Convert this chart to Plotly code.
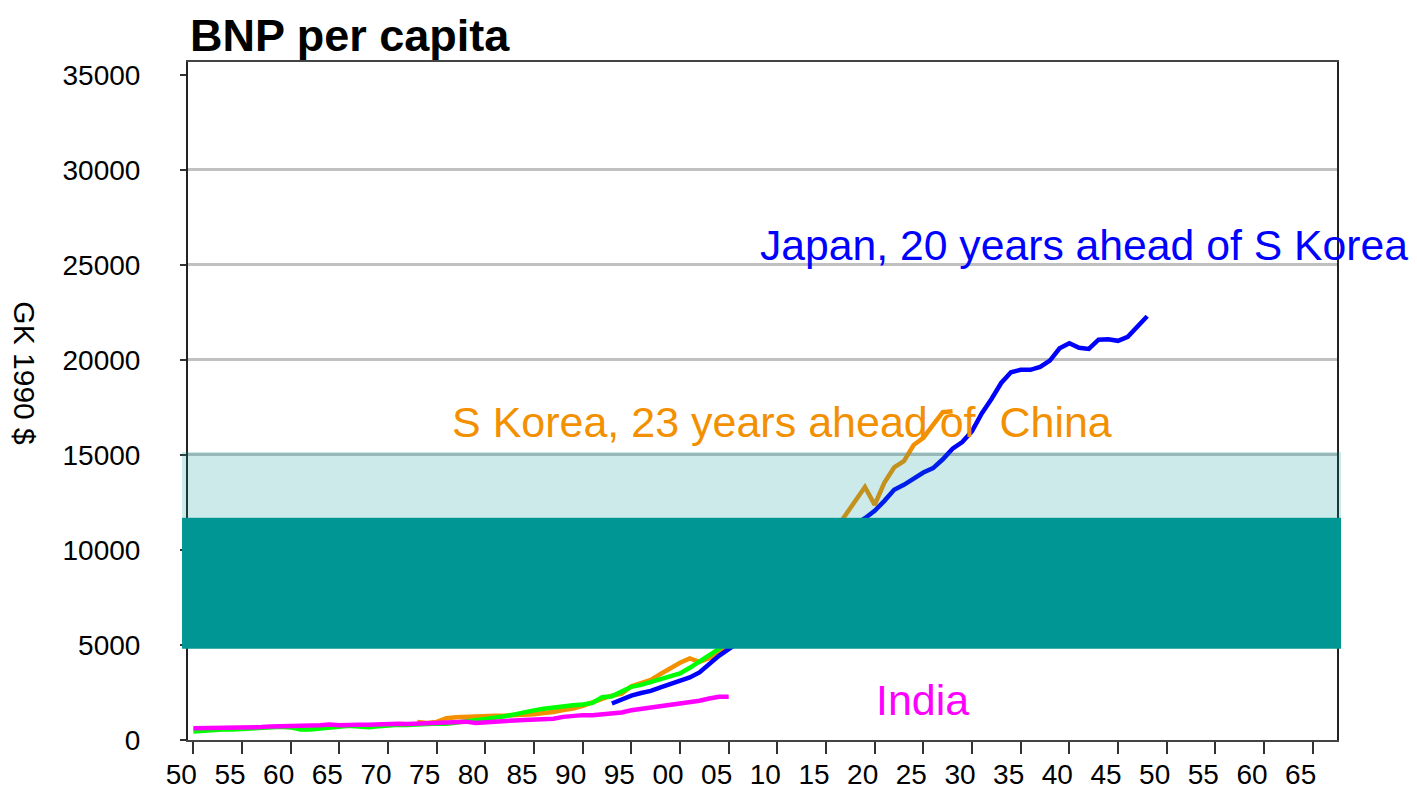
import plotly.graph_objects as go

# --- data (GK 1990 $ per capita) ---
china_years = list(range(1950, 2006))
china = [448, 491, 538, 552, 556, 577, 616, 637, 693, 697,
         662, 553, 550, 592, 653, 706, 753, 712, 678, 722,
         778, 798, 795, 838, 836, 871, 850, 894, 978, 1039,
         1100, 1150, 1250, 1350, 1480, 1560, 1640, 1720, 1800, 1830,
         1871, 1950, 2250, 2300, 2550, 2800, 2900, 3050, 3180, 3330,
         3500, 3800, 4120, 4450, 4800, 5300]

# S Korea 1950-2005 moved 23 years ahead
korea_years = list(range(1973, 2029))
korea = [950, 900, 950, 1150, 1200, 1230, 1220, 1250, 1270, 1280,
         1290, 1300, 1350, 1420, 1470, 1580, 1650, 1800, 2008, 2167,
         2332, 2439, 2824, 3015, 3162, 3476, 3775, 4064, 4294, 4114,
         4302, 4557, 5007, 5375, 5670, 6263, 6916, 7621, 8027, 8704,
         9425, 9850, 10350, 11097, 11850, 12648, 13317, 12375, 13547, 14343,
         14673, 15524, 15902, 16583, 17250, 17300]

# Japan 1950-2005 moved 43 years ahead (20 years ahead of S Korea)
japan_years = list(range(1993, 2049))
japan = [1921, 2126, 2336, 2474, 2582, 2771, 2948, 3136, 3289, 3554,
         3986, 4426, 4777, 5129, 5668, 5934, 6506, 7152, 7983, 8874,
         9714, 10040, 10734, 11434, 11145, 11344, 11669, 12064, 12585, 13163,
         13428, 13754, 14078, 14307, 14773, 15331, 15679, 16251, 17185, 17943,
         18789, 19355, 19482, 19478, 19632, 19970, 20613, 20882, 20640, 20581,
         21069, 21084, 21006, 21218, 21750, 22300]

india_years = list(range(1950, 2006))
india = [619, 623, 629, 657, 672, 676, 701, 680, 717, 714,
         753, 758, 758, 779, 814, 771, 762, 807, 809, 842,
         868, 856, 837, 853, 848, 897, 889, 937, 966, 895,
         938, 977, 979, 1032, 1048, 1079, 1101, 1123, 1217, 1270,
         1309, 1305, 1343, 1377, 1452, 1568, 1638, 1670, 1746, 1819,
         1892, 1957, 2065, 2180, 2270, 2280]

tick_years = list(range(1950, 2066, 5))
tick_labels = [str(y)[2:] for y in tick_years]
y_ticks = list(range(0, 35001, 5000))
y_labels = [str(v) for v in y_ticks]
grid_ticks = list(range(5000, 30001, 5000))

FONT = "Liberation Sans, Arial, sans-serif"
ORANGE = "#F39000"
TEAL = "#009694"
LW = 4.5

fig = go.Figure()
fig.add_trace(go.Scatter(x=korea_years, y=korea, mode="lines",
                         line=dict(color=ORANGE, width=LW)))
fig.add_trace(go.Scatter(x=china_years, y=china, mode="lines",
                         line=dict(color="#00FF00", width=LW)))
fig.add_trace(go.Scatter(x=japan_years, y=japan, mode="lines",
                         line=dict(color="#0000FF", width=LW)))
fig.add_trace(go.Scatter(x=india_years, y=india, mode="lines", yaxis="y2",
                         line=dict(color="#FF00FF", width=LW)))

# bands laid over the chart
fig.add_shape(type="rect", xref="paper", yref="y", x0=-0.0052, x1=1.0035,
              y0=11700, y1=15150, fillcolor="rgba(0,150,148,0.2)",
              line_width=0, layer="above")
fig.add_shape(type="rect", xref="paper", yref="y", x0=-0.0052, x1=1.0035,
              y0=4800, y1=11700, fillcolor=TEAL, line_width=0, layer="above")

fig.add_annotation(x=2008.0, y=26050, xref="x", yref="y", xanchor="left",
                   text="Japan, 20 years ahead of S Korea", showarrow=False,
                   font=dict(family=FONT, size=42.7, color="#0000FF"))
fig.add_annotation(x=1976.4, y=16740, xref="x", yref="y", xanchor="left",
                   text="S Korea, 23 years ahead of\u00a0 China", showarrow=False,
                   font=dict(family=FONT, size=43, color=ORANGE))
fig.add_annotation(x=2019.9, y=2100, xref="x", yref="y", xanchor="left",
                   text="India", showarrow=False,
                   font=dict(family=FONT, size=43, color="#FF00FF"))
fig.add_annotation(x=-0.142, y=0.541, xref="paper", yref="paper",
                   xanchor="center", yanchor="middle",
                   text="GK 1990 $", textangle=90, showarrow=False,
                   font=dict(family=FONT, size=30, color="black"))

# page body keeps an 8px margin, so the figure is 16px smaller than the window
fig.update_layout(
    width=1401, height=783,
    margin=dict(l=180, r=72, t=54, b=51, autoexpand=False),
    paper_bgcolor="white", plot_bgcolor="white",
    showlegend=False,
    font=dict(family=FONT, color="black"),
    title=dict(text="BNP per capita", x=0.1299, xanchor="left", xref="container",
               y=0.9656, yanchor="middle", automargin=False,
               font=dict(family=FONT, size=45, weight="bold", color="black")),
    xaxis=dict(range=[1949.45, 2067.5], tickvals=tick_years, ticktext=tick_labels,
               ticks="outside", ticklen=12, tickwidth=1.5, tickcolor="#333",
               ticklabelshift=-12, ticklabelstandoff=-4, automargin=False,
               tickfont=dict(size=28), showgrid=False, zeroline=False,
               showline=True, linecolor="#444", linewidth=2, mirror=True),
    yaxis=dict(range=[0, 35680], tickvals=y_ticks, ticktext=y_labels,
               ticks="outside", ticklen=6, automargin=False,
               tickwidth=1.5, tickcolor="#333", ticklabelstandoff=34,
               tickfont=dict(size=28), showgrid=False, zeroline=False,
               showline=True, linecolor="#222", linewidth=2, mirror=True),
    yaxis2=dict(range=[0, 35680], overlaying="y", tickvals=grid_ticks,
                showticklabels=False, ticks="", showgrid=True, automargin=False,
                gridcolor="#C0C0C0", gridwidth=3, zeroline=False, showline=False),
)

fig.write_html("out.html")
